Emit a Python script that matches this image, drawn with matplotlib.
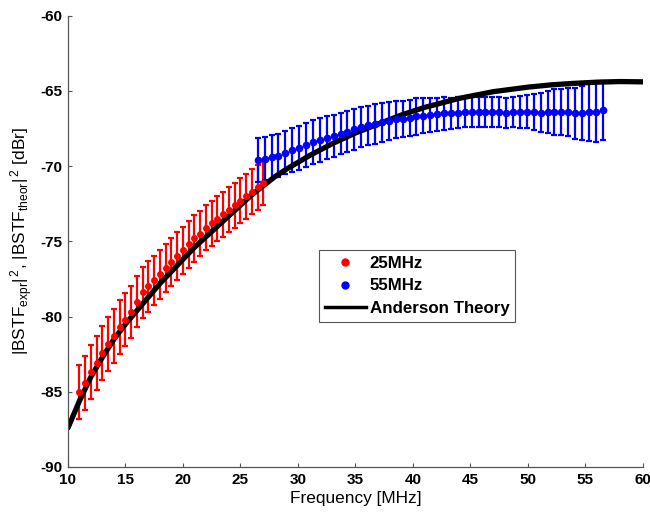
import matplotlib
matplotlib.use("Agg")
import matplotlib.pyplot as plt
from matplotlib.lines import Line2D

plt.rcParams['font.family'] = ['Liberation Sans', 'DejaVu Sans']
plt.rcParams['mathtext.fontset'] = 'custom'
plt.rcParams['mathtext.rm'] = 'Liberation Sans'
plt.rcParams['mathtext.it'] = 'Liberation Sans:italic'
plt.rcParams['mathtext.bf'] = 'Liberation Sans:bold'
plt.rcParams['axes.unicode_minus'] = False

# 25 MHz measurement
f25 = [11.0, 11.5, 12.0, 12.5, 13.0, 13.5, 14.0, 14.5, 15.0, 15.5, 16.0,
       16.5, 17.0, 17.5, 18.0, 18.5, 19.0, 19.5, 20.0, 20.5, 21.0, 21.5,
       22.0, 22.5, 23.0, 23.5, 24.0, 24.5, 25.0, 25.5, 26.0, 26.5, 27.0]
m25 = [-85.0, -84.4, -83.7, -83.1, -82.4, -81.8, -81.3, -80.7, -80.2, -79.7,
       -79.0, -78.4, -78.0, -77.6, -77.2, -76.8, -76.4, -76.0, -75.6, -75.2,
       -74.8, -74.5, -74.1, -73.8, -73.5, -73.2, -72.9, -72.6, -72.3, -72.0,
       -71.7, -71.4, -71.1]
e25 = [1.8, 1.8, 1.8, 1.8, 1.8, 1.8, 1.8, 1.8, 1.75, 1.75, 1.7, 1.7, 1.7,
       1.65, 1.65, 1.6, 1.6, 1.6, 1.55, 1.55, 1.55, 1.5, 1.5, 1.5, 1.5, 1.5,
       1.5, 1.5, 1.5, 1.5, 1.5, 1.5, 1.5]

# 55 MHz measurement
f55 = [26.5, 27.1, 27.7, 28.3, 28.9, 29.5, 30.1, 30.7, 31.3, 31.9, 32.5,
       33.1, 33.7, 34.3, 34.9, 35.5, 36.1, 36.7, 37.3, 37.9, 38.5, 39.1,
       39.7, 40.3, 40.9, 41.5, 42.1, 42.7, 43.3, 43.9, 44.5, 45.1, 45.7,
       46.3, 46.9, 47.5, 48.1, 48.7, 49.3, 49.9, 50.5, 51.1, 51.7, 52.3,
       52.9, 53.5, 54.1, 54.7, 55.3, 55.9, 56.5]
m55 = [-69.6, -69.5, -69.4, -69.3, -69.1, -68.95, -68.8, -68.6, -68.4, -68.25,
       -68.1, -68.0, -67.85, -67.7, -67.55, -67.4, -67.3, -67.2, -67.1, -67.0,
       -66.9, -66.85, -66.8, -66.7, -66.65, -66.6, -66.55, -66.5, -66.5,
       -66.45, -66.4, -66.4, -66.4, -66.4, -66.4, -66.4, -66.45, -66.4, -66.4,
       -66.4, -66.4, -66.45, -66.4, -66.4, -66.4, -66.4, -66.5, -66.45, -66.4,
       -66.4, -66.3]
e55 = [1.45, 1.45, 1.45, 1.45, 1.45, 1.45, 1.45, 1.45, 1.45, 1.45, 1.4,
       1.4, 1.35, 1.35, 1.35, 1.35, 1.3, 1.3, 1.3, 1.25, 1.2, 1.2, 1.2, 1.2,
       1.15, 1.1, 1.1, 1.1, 1.05, 1.05, 1.0, 1.0, 1.0, 1.0, 1.0, 1.0, 1.0,
       1.0, 1.05, 1.1, 1.2, 1.3, 1.4, 1.5, 1.55, 1.6, 1.7, 1.8, 1.9, 2.0, 1.95]

# Anderson theory curve
f_th = [10, 11, 12, 13, 14, 15, 16, 17, 18, 19, 20, 21, 22, 23, 24, 25, 26,
        27, 28, 29, 30, 31, 32, 33, 34, 35, 36, 37, 38, 39, 40, 41, 42, 43,
        44, 45, 46, 47, 48, 49, 50, 52, 54, 56, 58, 60]
m_th = [-87.4, -85.6, -84.0, -82.7, -81.5, -80.5, -79.6, -78.7, -77.8, -77.0,
        -76.2, -75.4, -74.7, -74.0, -73.3, -72.6, -71.9, -71.3, -70.7, -70.2,
        -69.75, -69.3, -68.9, -68.5, -68.15, -67.8, -67.5, -67.2, -66.9, -66.6,
        -66.35, -66.1, -65.9, -65.7, -65.5, -65.35, -65.2, -65.05, -64.95,
        -64.85, -64.75, -64.6, -64.5, -64.42, -64.38, -64.4]

fig = plt.figure(figsize=(6.5, 5.12), dpi=100)
ax = fig.add_axes([0.1046, 0.0879, 0.8846, 0.8815])

ax.errorbar(f25, m25, yerr=e25, fmt='o', color='red', ms=4,
            elinewidth=1.6, capsize=2.5, capthick=1.6)
ax.errorbar(f55, m55, yerr=e55, fmt='o', color='blue', ms=4.5,
            elinewidth=1.6, capsize=2.5, capthick=1.6)
ax.plot(f_th, m_th, color='black', lw=3.8, solid_capstyle='round')

ax.set_xlim(10, 60)
ax.set_ylim(-90, -60)
ax.set_xticks(range(10, 61, 5))
ax.set_yticks(range(-90, -59, 5))

for s in ['top', 'right']:
    ax.spines[s].set_visible(False)
for s in ['left', 'bottom']:
    ax.spines[s].set_color('#555555')
    ax.spines[s].set_linewidth(0.9)

ax.tick_params(direction='in', length=3, width=0.8, color='#555555',
               labelsize=11, pad=4)
for lab in ax.get_xticklabels() + ax.get_yticklabels():
    lab.set_fontweight('bold')

ax.set_xlabel('Frequency [MHz]', fontsize=12.4, labelpad=3)
ax.set_ylabel(r'$|\mathrm{BSTF}_{\mathrm{expr}}|^{\,2}$, '
              r'$|\mathrm{BSTF}_{\mathrm{theor}}|^{\,2}$ [dBr]',
              fontsize=12.4, labelpad=4)

handles = [
    Line2D([], [], ls='', marker='o', color='red', ms=5),
    Line2D([], [], ls='', marker='o', color='blue', ms=5),
    Line2D([], [], color='black', lw=2.5),
]
leg = ax.legend(handles, ['25MHz', '55MHz', 'Anderson Theory'],
                loc='upper left', bbox_to_anchor=(0.4365, 0.481),
                prop={'weight': 'bold', 'size': 12.2}, fancybox=False,
                framealpha=1, edgecolor='#555555', handlelength=2.4,
                handletextpad=0.25, borderpad=0.35, labelspacing=0.45,
                borderaxespad=0)
leg.get_frame().set_linewidth(0.8)

fig.savefig('out.png', dpi=100)
